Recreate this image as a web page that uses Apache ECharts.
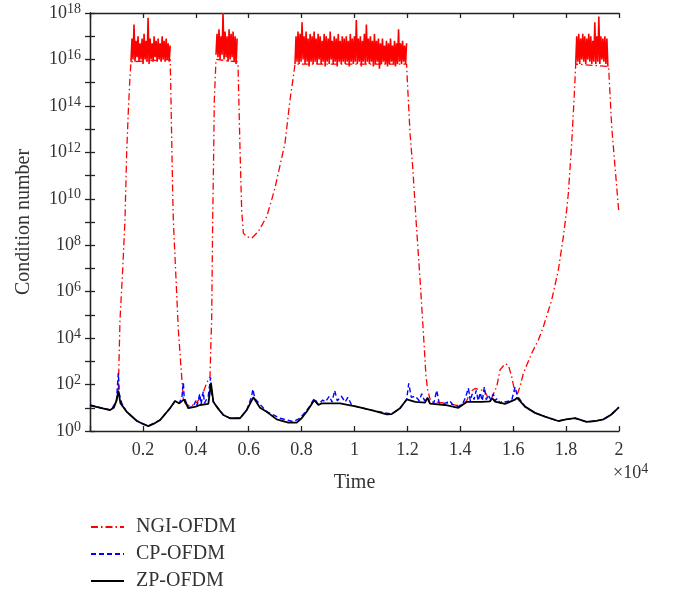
<!DOCTYPE html>
<html><head><meta charset="utf-8">
<script src="https://cdn.jsdelivr.net/npm/echarts@6/dist/echarts.min.js"></script>
<style>html,body{margin:0;padding:0;background:#fff}#c{width:676px;height:592px}</style>
</head><body><div id="c"></div>
<script>
// ---- data: [time, log10(condition number)] ----
const ngiPts = [[0,1.1],[400,1.0],[820,0.9],[1000,1.3],[1070,1.7],[1134,4.78],[1235,6.93],[1323,9.09],[1386,11.97],[1450,13.8],[1512,15.26],[1550,15.9],
 [3030,16.0],[3050,14.98],[3126,10.25],[3150,9.09],[3340,4.35],[3466,2.34],[3530,1.34],[3600,1.2],[3800,1.05],[4000,1.2],[4223,1.48],[4412,2.07],[4537,2.34],[4575,3.92],[4600,4.78],[4638,9.09],[4670,11.5],[4700,14.26],[4764,16.0],
 [5560,15.9],[5596,15.8],[5672,12.1],[5735,9.5],[5798,8.52],[5924,8.37],[6113,8.30],[6365,8.59],[6680,9.23],[6869,9.95],[7000,10.5],[7373,12.4],[7562,14.26],[7688,15.26],[7751,15.8],
 [11970,15.8],[11990,15.26],[12099,12.83],[12200,11.38],[12326,9.09],[12480,6.5],[12628,3.78],[12704,2.34],[12768,1.77],[12880,1.26],[13000,1.25],[13500,1.2],[13864,1.1],[14100,1.15],[14243,1.3],[14368,1.69],[14557,1.83],[14810,1.76],[14936,1.69],[15124,1.26],[15377,1.91],[15502,2.63],[15691,2.89],[15817,2.84],[15943,2.34],[16069,1.63],[16160,1.6],[16258,1.91],[16384,2.48],[16700,3.35],[16951,3.92],[17140,4.49],[17455,5.64],[17706,6.93],[17896,8.37],[18022,9.52],[18086,10.25],[18212,12.4],[18300,14.26],[18364,15.8],
 [19580,15.7],[19610,15.6],[19724,13.1],[19850,11.38],[19975,9.66],[20000,9.4]];

// dense noisy plateau bands of NGI-OFDM: start time, sample step, log10 values
const band1Start = 1550, band1Step = 38;
const band1 = [15.9,16.9,16.0,17.5,15.9,16.8,16.1,17.0,15.9,16.7,16.0,16.9,15.8,17.1,16.0,16.8,15.9,17.8,15.8,16.9,16.0,16.7,15.9,17.0,16.1,16.8,15.9,16.9,16.0,16.7,15.9,17.0,16.0,16.8,15.9,16.9,16.0,16.7,15.9,16.6];
const band2Start = 4764, band2Step = 38;
const band2 = [16.2,17.1,16.1,17.3,16.0,17.0,16.2,18.0,16.0,17.2,16.1,17.0,15.9,17.3,16.0,17.1,16.1,17.2,15.9,17.0,15.8,16.9];
const band3Start = 7751, band3Step = 38;
const band3 = [15.8,17.0,15.9,17.2,15.8,17.1,15.9,17.6,16.0,17.0,
 15.8,17.2,15.9,16.9,15.7,17.1,15.9,17.0,15.8,17.2,
 15.9,16.9,15.8,17.1,16.0,17.0,15.8,16.8,15.9,17.1,
 15.7,17.0,15.9,16.9,15.8,17.2,16.0,16.8,15.8,17.0,
 15.9,16.9,15.7,17.1,15.9,16.8,15.8,17.0,15.9,16.9,
 15.8,17.0,15.9,16.8,15.7,17.1,15.9,16.9,15.8,17.0,
 15.9,17.7,15.8,16.9,15.9,17.0,15.7,16.8,15.9,17.1,
 15.8,17.5,15.9,16.9,15.8,17.0,15.9,16.8,15.7,17.1,
 15.8,16.8,15.9,16.9,15.6,16.7,15.8,16.9,15.9,16.6,
 15.8,16.8,15.7,16.7,15.8,16.9,15.9,16.6,15.8,16.8,
 15.7,16.7,15.8,17.3,15.9,16.7,15.8,16.8,15.9,16.6,15.8,16.7];
const band4Start = 18364, band4Step = 38;
const band4 = [15.8,17.0,15.9,17.1,15.8,16.9,16.0,17.1,15.9,17.0,15.8,16.9,16.0,17.1,15.9,17.0,15.8,16.8,15.9,17.6,15.8,17.0,15.9,17.85,15.8,17.0,16.0,16.9,15.9,17.0,15.8,16.9,15.7];

const cpPts = [[0,1.12],[400,1.0],[800,0.9],[1000,1.3],[1070,2.5],[1110,1.6],[1200,1.2],[1386,0.83],[1765,0.44],[2200,0.22],[2650,0.47],[3025,0.98],[3214,1.29],[3377,1.19],[3480,1.5],[3530,2.1],[3560,1.45],[3718,1.0],[3900,1.05],[4000,1.3],[4050,1.1],[4150,1.6],[4200,1.15],[4280,1.7],[4330,1.2],[4470,1.5],[4560,2.3],[4600,1.6],[4663,1.26],[5041,0.69],[5293,0.55],[5672,0.55],[5924,0.9],[6100,1.45],[6160,1.8],[6230,1.4],[6680,0.83],[7184,0.55],[7688,0.4],[7940,0.55],[8255,0.98],[8482,1.4],[8633,1.15],[8800,1.33],[8900,1.25],[9050,1.5],[9150,1.25],[9250,1.75],[9350,1.3],[9500,1.5],[9650,1.25],[9750,1.45],[9900,1.1],[10083,1.05],[10713,0.88],[11407,0.73],[11721,0.98],[11973,1.36],[12050,2.05],[12150,1.45],[12300,1.5],[12450,1.3],[12540,1.6],[12650,1.3],[12755,1.45],[12855,1.2],[13000,1.2],[13108,1.75],[13200,1.2],[13450,1.2],[13600,1.3],[13700,1.15],[13926,1.05],[14100,1.2],[14200,1.45],[14304,1.85],[14380,1.3],[14450,1.6],[14520,1.35],[14600,1.75],[14680,1.3],[14750,1.65],[14830,1.3],[14910,1.9],[14980,1.35],[15060,1.55],[15150,1.35],[15250,1.6],[15313,1.3],[15400,1.4],[15500,1.2],[15600,1.3],[15700,1.25],[15850,1.3],[15950,1.35],[16069,1.9],[16150,1.55],[16200,1.45],[16447,1.05],[16825,0.78],[17200,0.62],[17706,0.43],[18000,0.5],[18338,0.55],[18780,0.39],[19100,0.43],[19410,0.5],[19700,0.7],[19975,1.0],[20000,1.02]];

const zpPts = [[0,1.1],[400,1.0],[756,0.9],[900,1.0],[1000,1.3],[1070,1.74],[1150,1.2],[1386,0.83],[1765,0.44],[2000,0.3],[2205,0.21],[2400,0.3],[2647,0.47],[3025,0.98],[3214,1.29],[3377,1.19],[3554,1.36],[3718,0.98],[4000,1.05],[4159,1.12],[4474,1.17],[4575,2.05],[4663,1.26],[4850,0.95],[5041,0.69],[5293,0.55],[5672,0.55],[5924,0.9],[6176,1.45],[6428,1.0],[6680,0.83],[7059,0.5],[7499,0.36],[7814,0.36],[8000,0.55],[8192,0.83],[8482,1.33],[8633,1.12],[8759,1.19],[9452,1.19],[10083,1.05],[10713,0.88],[11218,0.72],[11407,0.73],[11721,0.98],[11973,1.36],[12300,1.25],[12666,1.22],[12755,1.43],[12855,1.18],[13422,1.12],[13926,1.0],[14243,1.25],[14810,1.25],[15124,1.28],[15212,1.41],[15313,1.26],[15691,1.17],[16069,1.35],[16150,1.43],[16447,1.05],[16825,0.78],[17200,0.62],[17706,0.43],[18000,0.5],[18338,0.55],[18780,0.39],[19100,0.43],[19410,0.5],[19700,0.7],[19975,1.0],[20000,1.02]];

const seriesNames = ['NGI-OFDM','CP-OFDM','ZP-OFDM'];
const xMax = 20000, xStep = 2000, yMax = 1e18;

// ---- build ----
const toVal = pts => pts.map(p => [p[0], Math.pow(10, p[1])]);
const bandVal = (start, step, arr) => arr.map((e, i) => [start + i * step, Math.pow(10, e)]);
const FONT = 'Liberation Serif';
const TXT = '#333';

const chart = echarts.init(document.getElementById('c'), null, {renderer: 'canvas'});
const axisLine = {show: true, lineStyle: {color: '#222', width: 1.3}};
const tick = {show: true, inside: true, length: 5, lineStyle: {color: '#222', width: 1.3}};
const xBase = {type: 'value', min: 0, max: xMax, interval: xStep, axisLine, axisTick: tick, splitLine: {show: false}};
const yBase = {type: 'log', logBase: 10, min: 1, max: yMax, interval: 1, axisLine, axisTick: tick, splitLine: {show: false}, minorTick: {show: false}};

const bandSeries = (d) => ({type: 'line', name: 'NGI-band', data: d, symbol: 'none', silent: true,
  lineStyle: {color: '#ff0000', width: 1.6, join: 'bevel'}, itemStyle: {color: '#ff0000'}, z: 2});

chart.setOption({
  animation: false,
  backgroundColor: '#fff',
  textStyle: {fontFamily: FONT},
  grid: {left: 90, top: 13, width: 529, height: 418, containLabel: false},
  legend: {
    data: seriesNames, orient: 'vertical', left: 90, top: 516, height: 150, padding: 0,
    itemWidth: 33, itemHeight: 14, itemGap: 5,
    itemStyle: {opacity: 0, borderWidth: 0},
    textStyle: {fontFamily: FONT, fontSize: 20, color: TXT, lineHeight: 22, padding: [0, 0, 0, 7]}
  },
  xAxis: [
    Object.assign({}, xBase, {position: 'bottom', name: 'Time', nameLocation: 'middle', nameGap: 42,
      nameTextStyle: {fontFamily: FONT, fontSize: 20, color: TXT},
      axisLabel: {show: true, margin: 10, fontFamily: FONT, fontSize: 18, color: TXT,
        formatter: v => v === 0 ? '' : String(v / 10000)}}),
    Object.assign({}, xBase, {position: 'top', axisLabel: {show: false}})
  ],
  yAxis: [
    Object.assign({}, yBase, {position: 'left', name: 'Condition number', nameLocation: 'middle', nameGap: 56,
      nameTextStyle: {fontFamily: FONT, fontSize: 20, color: TXT},
      axisLabel: {show: true, margin: 9, fontFamily: FONT, color: TXT,
        formatter: v => { const e = Math.round(Math.log10(v)); return e % 2 ? '' : '{b|10}{s|' + e + '}'; },
        rich: {b: {fontFamily: FONT, fontSize: 18, color: TXT}, s: {fontFamily: FONT, fontSize: 14, color: TXT, verticalAlign: 'bottom', padding: [0, 0, 8, 0]}}}}),
    Object.assign({}, yBase, {position: 'right', axisLabel: {show: false}})
  ],
  graphic: [{
    type: 'text', left: 613, top: 462,
    style: {text: '×10{s|4}', fontFamily: FONT, fontSize: 18, fill: TXT,
      rich: {s: {fontFamily: FONT, fontSize: 14, fill: TXT, verticalAlign: 'bottom', padding: [0, 0, 8, 0]}}}
  }],
  series: [
    {type: 'line', name: 'NGI-OFDM', data: toVal(ngiPts), symbol: 'none',
      lineStyle: {color: '#ff0000', width: 1.3, type: [7, 3, 1.5, 3]}, itemStyle: {color: '#ff0000'}, z: 2},
    bandSeries(bandVal(band1Start, band1Step, band1)),
    bandSeries(bandVal(band2Start, band2Step, band2)),
    bandSeries(bandVal(band3Start, band3Step, band3)),
    bandSeries(bandVal(band4Start, band4Step, band4)),
    {type: 'line', name: 'CP-OFDM', data: toVal(cpPts), symbol: 'none',
      lineStyle: {color: '#0000ff', width: 1.4, type: [5, 3]}, itemStyle: {color: '#0000ff'}, z: 3},
    {type: 'line', name: 'ZP-OFDM', data: toVal(zpPts), symbol: 'none',
      lineStyle: {color: '#000000', width: 1.8}, itemStyle: {color: '#000000'}, z: 4}
  ]
});
</script></body></html>
